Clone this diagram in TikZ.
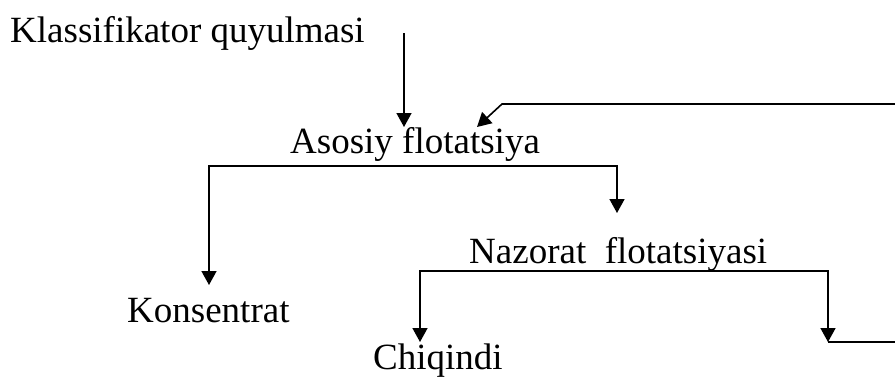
\documentclass[tikz,border=0pt]{standalone}
\usepackage{fontspec}
\setmainfont{Liberation Serif}
\usetikzlibrary{arrows.meta}
\begin{document}
\begin{tikzpicture}[x=1pt,y=-1pt,
  lbl/.style={anchor=base west,inner sep=0pt,font=\fontsize{37}{42}\selectfont},
  flow/.style={line width=1.6pt},
  arr/.style={flow,-{Triangle[width=15pt,length=14pt]}}]
\useasboundingbox (0,0) rectangle (895,378);

% stage labels
\node[lbl] (klass)   at (10,42)   {Klassifikator quyulmasi};
\node[lbl] (asosiy)  at (290,153) {Asosiy flotatsiya};
\node[lbl] (nazorat) at (469,263) {Nazorat\ \ flotatsiyasi};
\node[lbl] (kons)    at (127,322) {Konsentrat};
\node[lbl] (chiq)    at (373,369) {Chiqindi};

% feed into the main flotation
\coordinate (feed)    at (404,33);
\coordinate (feedEnd) at (404,127);
\draw[arr] (feed) -- (feedEnd);

% main flotation split: concentrate (left), to control flotation (right)
\coordinate (mainL)   at (209,166);
\coordinate (mainR)   at (617,166);
\coordinate (konsIn)  at (209,285);
\coordinate (nazIn)   at (617,213);
\draw[arr] (mainR) -- (mainL) -- (konsIn);
\draw[arr] (mainL) -- (mainR) -- (nazIn);

% control flotation split: tailings (left), middlings (right)
\coordinate (nazL)    at (420,271);
\coordinate (nazR)    at (828,271);
\coordinate (chiqIn)  at (420,342);
\coordinate (midIn)   at (828,342);
\draw[arr] (nazR) -- (nazL) -- (chiqIn);
\draw[arr] (nazL) -- (nazR) -- (midIn);

% middlings leave to the right; return stream back into the main flotation
\coordinate (midOut)  at (895,342);
\draw[flow] (midIn) -- (midOut);
\coordinate (retIn)   at (895,104);
\coordinate (retBend) at (502,104);
\coordinate (retEnd)  at (477,127);
\draw[arr] (retIn) -- (retBend) -- (retEnd);
\end{tikzpicture}
\end{document}
